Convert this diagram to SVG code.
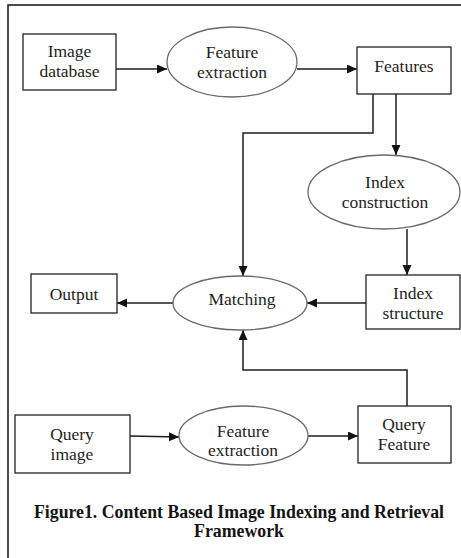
<svg xmlns="http://www.w3.org/2000/svg" width="461" height="558" viewBox="0 0 461 558">
  <style>
    .box { fill: #fff; stroke: #222; stroke-width: 1.3; }
    .oval { fill: #fff; stroke: #6a6a6a; stroke-width: 1.3; }
    .lbl { font-family: "Liberation Serif", "Times New Roman", serif; font-size: 17.5px; fill: #1e1e1e; text-anchor: middle; }
    .cap { font-family: "Liberation Serif", "Times New Roman", serif; font-size: 17.8px; font-weight: bold; fill: #141414; text-anchor: middle; }
    .wire { fill: none; stroke: #1e1e1e; stroke-width: 1.5; }
  </style>
  <defs>
    <marker id="head" markerUnits="userSpaceOnUse" markerWidth="11" markerHeight="10" refX="10" refY="4.5" orient="auto">
      <path d="M0,0 L10,4.5 L0,9 z" fill="#111"/>
    </marker>
  </defs>

  <rect width="461" height="558" fill="#fff"/>
  <!-- page frame -->
  <path d="M8,558 V5 H461" fill="none" stroke="#111" stroke-width="1.5"/>

  <g id="connectors">
    <path class="wire" d="M116,69 H167" marker-end="url(#head)"/>
    <path class="wire" d="M297,69 H357" marker-end="url(#head)"/>
    <path class="wire" d="M373,94 V133 H243 V276" marker-end="url(#head)"/>
    <path class="wire" d="M396,94 V155" marker-end="url(#head)"/>
    <path class="wire" d="M407,229 V275" marker-end="url(#head)"/>
    <path class="wire" d="M366,303 H307" marker-end="url(#head)"/>
    <path class="wire" d="M173,303 H117" marker-end="url(#head)"/>
    <path class="wire" d="M407,406 V370 H243 V330" marker-end="url(#head)"/>
    <path class="wire" d="M130,436 L179,437" marker-end="url(#head)"/>
    <path class="wire" d="M308,436 H358" marker-end="url(#head)"/>
  </g>

  <g id="image-database">
    <rect class="box" x="23" y="34" width="93" height="56"/>
    <text class="lbl" x="69.5" y="57">Image</text>
    <text class="lbl" x="69.5" y="77">database</text>
  </g>

  <g id="feature-extraction-db">
    <ellipse class="oval" cx="232" cy="62" rx="65" ry="35"/>
    <text class="lbl" x="232" y="58">Feature</text>
    <text class="lbl" x="232" y="78">extraction</text>
  </g>

  <g id="features">
    <rect class="box" x="357" y="47" width="94" height="47"/>
    <text class="lbl" x="404" y="72">Features</text>
  </g>

  <g id="index-construction">
    <ellipse class="oval" cx="384" cy="192" rx="76" ry="37"/>
    <text class="lbl" x="385" y="188">Index</text>
    <text class="lbl" x="385" y="208">construction</text>
  </g>

  <g id="index-structure">
    <rect class="box" x="366" y="275" width="94" height="54"/>
    <text class="lbl" x="413" y="299">Index</text>
    <text class="lbl" x="413" y="319">structure</text>
  </g>

  <g id="matching">
    <ellipse class="oval" cx="240" cy="303" rx="67" ry="27"/>
    <text class="lbl" x="242" y="305">Matching</text>
  </g>

  <g id="output">
    <rect class="box" x="31" y="274" width="86" height="39"/>
    <text class="lbl" x="74" y="300">Output</text>
  </g>

  <g id="query-image">
    <rect class="box" x="15" y="415" width="115" height="58"/>
    <text class="lbl" x="72" y="440">Query</text>
    <text class="lbl" x="72" y="460">image</text>
  </g>

  <g id="feature-extraction-query">
    <ellipse class="oval" cx="243.5" cy="435.5" rx="64.5" ry="29.5"/>
    <text class="lbl" x="243" y="437">Feature</text>
    <text class="lbl" x="243" y="456">extraction</text>
  </g>

  <g id="query-feature">
    <rect class="box" x="358" y="406" width="93" height="57"/>
    <text class="lbl" x="404" y="430">Query</text>
    <text class="lbl" x="404" y="450">Feature</text>
  </g>

  <g id="caption">
    <text class="cap" x="239" y="518">Figure1. Content Based Image Indexing and Retrieval</text>
    <text class="cap" x="239" y="537">Framework</text>
  </g>
</svg>
